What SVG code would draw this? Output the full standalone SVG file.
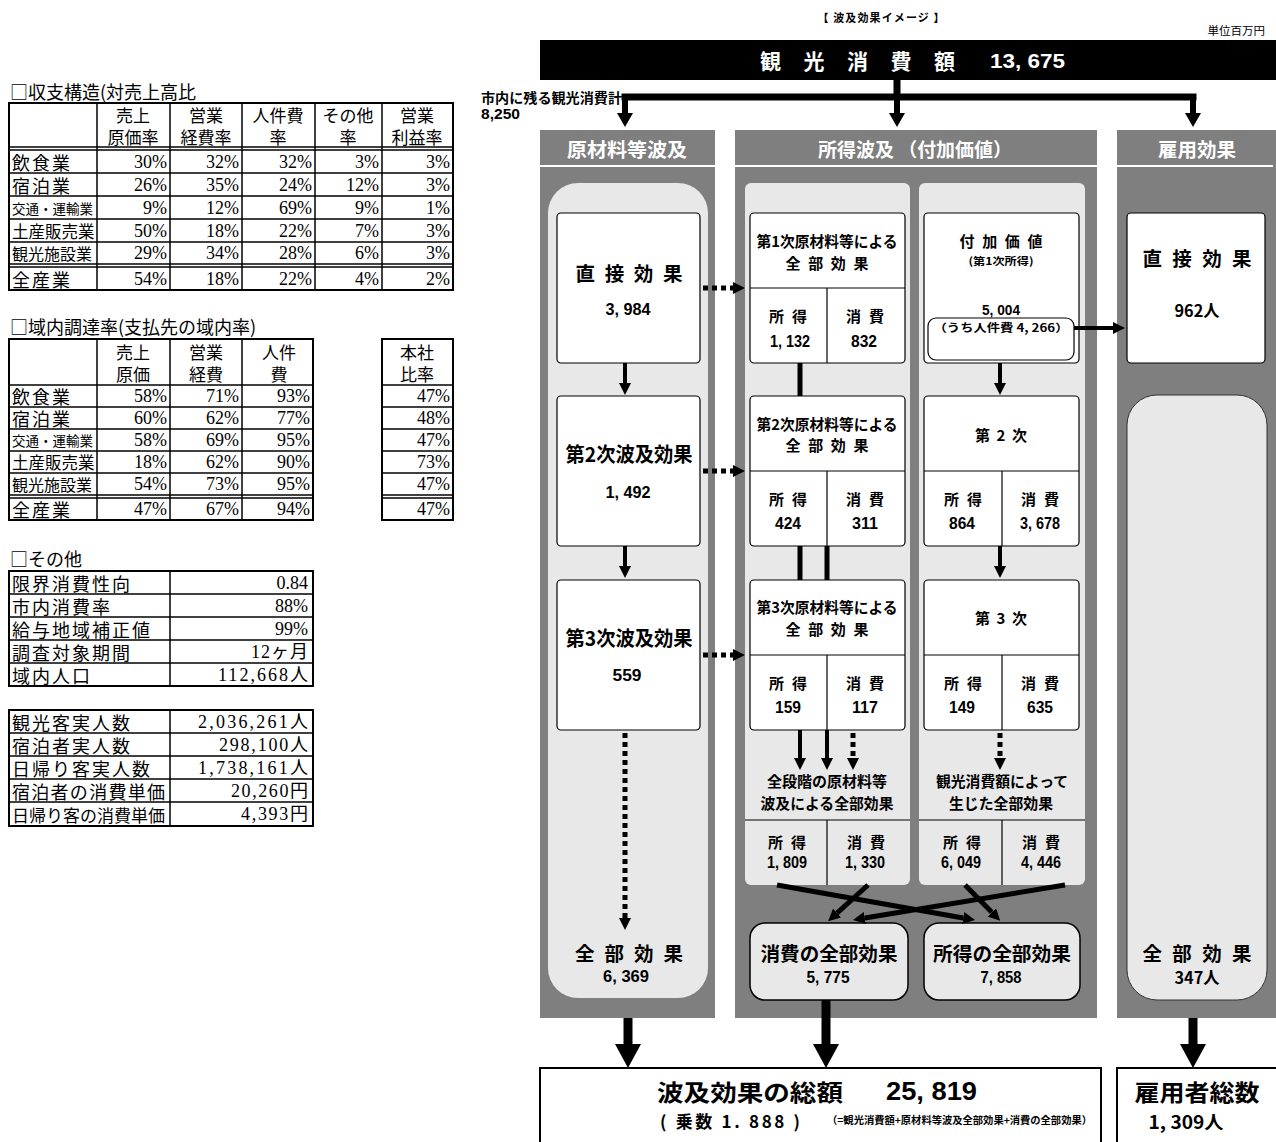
<svg xmlns="http://www.w3.org/2000/svg" width="1276" height="1142" viewBox="0 0 1276 1142">
<style>
.b{font-family:"Noto Sans CJK JP",sans-serif;font-weight:700;fill:#000}
.n{font-family:"Liberation Sans","Noto Sans CJK JP",sans-serif;font-weight:700;fill:#000}
.t{font-family:"Noto Sans CJK JP",sans-serif;fill:#000}
.s{font-family:"Liberation Serif","Noto Sans CJK JP",serif;fill:#000;text-anchor:end}
.w{fill:#fff}
.c{text-anchor:middle}
text{dominant-baseline:central}
.col{fill:#7f7f7f}
.pan{fill:#e8e8e8}
.box{fill:#fff;stroke:#000;stroke-width:1.2}
.div{stroke:#000;stroke-width:1.2;fill:none}
.hl{stroke:#fff;stroke-width:2}
.tb{fill:none;stroke:#000;stroke-width:2}
.tl{stroke:#000;stroke-width:1.5}
.con{stroke:#000;fill:none}
.dot{stroke-dasharray:5 4}
</style>
<defs>
<marker id="ah" viewBox="0 0 12 12" refX="0" refY="6" markerWidth="12" markerHeight="12" markerUnits="userSpaceOnUse" orient="auto"><path d="M0,0 L12,6 L0,12 z" fill="#000"/></marker>
<marker id="ahT" viewBox="0 0 14 16" refX="0" refY="8" markerWidth="14" markerHeight="16" markerUnits="userSpaceOnUse" orient="auto"><path d="M0,0 L14,8 L0,16 z" fill="#000"/></marker>
<marker id="ahB" viewBox="0 0 24 26" refX="0" refY="13" markerWidth="24" markerHeight="26" markerUnits="userSpaceOnUse" orient="auto"><path d="M0,0 L24,13 L0,26 z" fill="#000"/></marker>
</defs>
<rect width="1276" height="1142" fill="#fff"/>

<!-- ========== LEFT TABLES ========== -->
<g id="table-income">
<text class="t" x="10" y="91" font-size="18">□収支構造(対売上高比</text>
<rect class="tb" x="9" y="103" width="444" height="187"/>
<line class="tl" x1="97" y1="103" x2="97" y2="290"/>
<line class="tl" x1="170" y1="103" x2="170" y2="290"/>
<line class="tl" x1="242" y1="103" x2="242" y2="290"/>
<line class="tl" x1="315" y1="103" x2="315" y2="290"/>
<line class="tl" x1="382" y1="103" x2="382" y2="290"/>
<line class="tl" x1="9" y1="147" x2="453" y2="147"/>
<line class="tl" x1="9" y1="150" x2="453" y2="150"/>
<line class="tl" x1="9" y1="173" x2="453" y2="173"/>
<line class="tl" x1="9" y1="196" x2="453" y2="196"/>
<line class="tl" x1="9" y1="219" x2="453" y2="219"/>
<line class="tl" x1="9" y1="242" x2="453" y2="242"/>
<line class="tl" x1="9" y1="264" x2="453" y2="264"/>
<line class="tl" x1="9" y1="267" x2="453" y2="267"/>
<g font-size="17">
<text class="t c" x="133" y="114">売上</text><text class="t c" x="133" y="136">原価率</text>
<text class="t c" x="206" y="114">営業</text><text class="t c" x="206" y="136">経費率</text>
<text class="t c" x="278" y="114">人件費</text><text class="t c" x="278" y="136">率</text>
<text class="t c" x="348" y="114">その他</text><text class="t c" x="348" y="136">率</text>
<text class="t c" x="417" y="114">営業</text><text class="t c" x="417" y="136">利益率</text>
</g>
<text class="t" x="12" y="161.5" font-size="18" textLength="58">飲食業</text>
<text class="t" x="12" y="184.5" font-size="18" textLength="58">宿泊業</text>
<text class="t" x="12" y="207.5" font-size="13.5">交通・運輸業</text>
<text class="t" x="12" y="230.5" font-size="16.5">土産販売業</text>
<text class="t" x="12" y="253" font-size="16">観光施設業</text>
<text class="t" x="12" y="278.5" font-size="18" textLength="58">全産業</text>
<g font-size="18">
<text class="s" x="167" y="161.5">30%</text><text class="s" x="239" y="161.5">32%</text><text class="s" x="312" y="161.5">32%</text><text class="s" x="379" y="161.5">3%</text><text class="s" x="450" y="161.5">3%</text>
<text class="s" x="167" y="184.5">26%</text><text class="s" x="239" y="184.5">35%</text><text class="s" x="312" y="184.5">24%</text><text class="s" x="379" y="184.5">12%</text><text class="s" x="450" y="184.5">3%</text>
<text class="s" x="167" y="207.5">9%</text><text class="s" x="239" y="207.5">12%</text><text class="s" x="312" y="207.5">69%</text><text class="s" x="379" y="207.5">9%</text><text class="s" x="450" y="207.5">1%</text>
<text class="s" x="167" y="230.5">50%</text><text class="s" x="239" y="230.5">18%</text><text class="s" x="312" y="230.5">22%</text><text class="s" x="379" y="230.5">7%</text><text class="s" x="450" y="230.5">3%</text>
<text class="s" x="167" y="253">29%</text><text class="s" x="239" y="253">34%</text><text class="s" x="312" y="253">28%</text><text class="s" x="379" y="253">6%</text><text class="s" x="450" y="253">3%</text>
<text class="s" x="167" y="278.5">54%</text><text class="s" x="239" y="278.5">18%</text><text class="s" x="312" y="278.5">22%</text><text class="s" x="379" y="278.5">4%</text><text class="s" x="450" y="278.5">2%</text>
</g>
</g>

<g id="table-procurement">
<text class="t" x="10" y="326" font-size="18">□域内調達率(支払先の域内率)</text>
<rect class="tb" x="9" y="339" width="304" height="181"/>
<line class="tl" x1="97" y1="339" x2="97" y2="520"/>
<line class="tl" x1="170" y1="339" x2="170" y2="520"/>
<line class="tl" x1="242" y1="339" x2="242" y2="520"/>
<rect class="tb" x="382" y="339" width="71" height="181"/>
<g>
<line class="tl" x1="9" y1="385" x2="313" y2="385"/><line class="tl" x1="382" y1="385" x2="453" y2="385"/>
<line class="tl" x1="9" y1="407" x2="313" y2="407"/><line class="tl" x1="382" y1="407" x2="453" y2="407"/>
<line class="tl" x1="9" y1="429" x2="313" y2="429"/><line class="tl" x1="382" y1="429" x2="453" y2="429"/>
<line class="tl" x1="9" y1="451" x2="313" y2="451"/><line class="tl" x1="382" y1="451" x2="453" y2="451"/>
<line class="tl" x1="9" y1="473" x2="313" y2="473"/><line class="tl" x1="382" y1="473" x2="453" y2="473"/>
<line class="tl" x1="9" y1="495" x2="313" y2="495"/><line class="tl" x1="382" y1="495" x2="453" y2="495"/>
<line class="tl" x1="9" y1="498" x2="313" y2="498"/><line class="tl" x1="382" y1="498" x2="453" y2="498"/>
</g>
<text class="t c" x="133" y="351" font-size="17">売上</text><text class="t c" x="133" y="373" font-size="17">原価</text>
<text class="t c" x="206" y="351" font-size="17">営業</text><text class="t c" x="206" y="373" font-size="17">経費</text>
<text class="t c" x="279" y="351" font-size="17">人件</text><text class="t c" x="279" y="373" font-size="17">費</text>
<text class="t c" x="417" y="351" font-size="17">本社</text><text class="t c" x="417" y="373" font-size="17">比率</text>
<text class="t" x="12" y="396" font-size="18" textLength="58">飲食業</text>
<text class="t" x="12" y="418" font-size="18" textLength="58">宿泊業</text>
<text class="t" x="12" y="440" font-size="13.5">交通・運輸業</text>
<text class="t" x="12" y="462" font-size="16.5">土産販売業</text>
<text class="t" x="12" y="484" font-size="16">観光施設業</text>
<text class="t" x="12" y="509" font-size="18" textLength="58">全産業</text>
<g font-size="18">
<text class="s" x="167" y="396">58%</text><text class="s" x="239" y="396">71%</text><text class="s" x="310" y="396">93%</text><text class="s" x="450" y="396">47%</text>
<text class="s" x="167" y="418">60%</text><text class="s" x="239" y="418">62%</text><text class="s" x="310" y="418">77%</text><text class="s" x="450" y="418">48%</text>
<text class="s" x="167" y="440">58%</text><text class="s" x="239" y="440">69%</text><text class="s" x="310" y="440">95%</text><text class="s" x="450" y="440">47%</text>
<text class="s" x="167" y="462">18%</text><text class="s" x="239" y="462">62%</text><text class="s" x="310" y="462">90%</text><text class="s" x="450" y="462">73%</text>
<text class="s" x="167" y="484">54%</text><text class="s" x="239" y="484">73%</text><text class="s" x="310" y="484">95%</text><text class="s" x="450" y="484">47%</text>
<text class="s" x="167" y="509">47%</text><text class="s" x="239" y="509">67%</text><text class="s" x="310" y="509">94%</text><text class="s" x="450" y="509">47%</text>
</g>
</g>

<g id="table-other">
<text class="t" x="10" y="558" font-size="18">□その他</text>
<rect class="tb" x="9" y="571" width="304" height="115"/>
<line class="tl" x1="170" y1="571" x2="170" y2="686"/>
<line class="tl" x1="9" y1="594" x2="313" y2="594"/>
<line class="tl" x1="9" y1="617" x2="313" y2="617"/>
<line class="tl" x1="9" y1="640" x2="313" y2="640"/>
<line class="tl" x1="9" y1="663" x2="313" y2="663"/>
<text class="t" x="12" y="582.5" font-size="18" textLength="118">限界消費性向</text>
<text class="t" x="12" y="605.5" font-size="18" textLength="98">市内消費率</text>
<text class="t" x="12" y="628.5" font-size="18" textLength="138">給与地域補正値</text>
<text class="t" x="12" y="651.5" font-size="18" textLength="118">調査対象期間</text>
<text class="t" x="12" y="674.5" font-size="18" textLength="78">域内人口</text>
<g font-size="18">
<text class="s" x="308" y="582.5">0.84</text>
<text class="s" x="308" y="605.5">88%</text>
<text class="s" x="308" y="628.5">99%</text>
<text class="s" x="308" y="651.5" textLength="57">12ヶ月</text>
<text class="s" x="308" y="674.5" textLength="90">112,668人</text>
</g>
</g>

<g id="table-visitors">
<rect class="tb" x="9" y="710" width="304" height="116"/>
<line class="tl" x1="170" y1="710" x2="170" y2="826"/>
<line class="tl" x1="9" y1="733" x2="313" y2="733"/>
<line class="tl" x1="9" y1="756" x2="313" y2="756"/>
<line class="tl" x1="9" y1="779" x2="313" y2="779"/>
<line class="tl" x1="9" y1="802" x2="313" y2="802"/>
<text class="t" x="12" y="721.5" font-size="18" textLength="118">観光客実人数</text>
<text class="t" x="12" y="744.5" font-size="18" textLength="118">宿泊者実人数</text>
<text class="t" x="12" y="767.5" font-size="18" textLength="138">日帰り客実人数</text>
<text class="t" x="12" y="790.5" font-size="18" textLength="153">宿泊者の消費単価</text>
<text class="t" x="12" y="814" font-size="17" textLength="153">日帰り客の消費単価</text>
<g font-size="18">
<text class="s" x="308" y="721.5" textLength="110">2,036,261人</text>
<text class="s" x="308" y="744.5" textLength="89">298,100人</text>
<text class="s" x="308" y="767.5" textLength="110">1,738,161人</text>
<text class="s" x="308" y="790.5" textLength="77">20,260円</text>
<text class="s" x="308" y="814" textLength="67">4,393円</text>
</g>
</g>

<!-- ========== DIAGRAM ========== -->
<g id="title">
<text class="b c" x="881" y="17" font-size="11" textLength="127">【 波及効果イメージ 】</text>
<text class="t" x="1265" y="30" font-size="11.5" text-anchor="end">単位百万円</text>
</g>

<g id="node-tourism-spending">
<rect x="540" y="40" width="736" height="40" fill="#000"/>
<text class="b w" x="760" y="60" font-size="21" textLength="195" lengthAdjust="spacing">観 光 消 費 額</text>
<text class="n w" x="990" y="60" font-size="21" textLength="75" lengthAdjust="spacingAndGlyphs">13, 675</text>
</g>

<g id="label-remaining">
<text class="b" x="481" y="97" font-size="13.5" textLength="141" lengthAdjust="spacingAndGlyphs">市内に残る観光消費計</text>
<text class="n" x="481" y="113" font-size="15" textLength="39" lengthAdjust="spacingAndGlyphs">8,250</text>
</g>

<!-- columns -->
<g id="col-materials">
<rect class="col" x="540" y="130" width="175" height="888"/>
<line class="hl" x1="540" y1="166" x2="715" y2="166"/>
<text class="b w c" x="627" y="148" font-size="19" textLength="120" lengthAdjust="spacingAndGlyphs">原材料等波及</text>
<rect class="pan" x="548" y="183" width="160" height="815" rx="30"/>
</g>
<g id="col-income">
<rect class="col" x="735" y="130" width="362" height="888"/>
<line class="hl" x1="735" y1="166" x2="1097" y2="166"/>
<text class="b w c" x="915" y="148" font-size="19" textLength="194" lengthAdjust="spacingAndGlyphs">所得波及 （付加価値）</text>
<rect class="pan" x="745" y="183" width="165" height="702" rx="6"/>
<rect class="pan" x="919" y="183" width="166" height="702" rx="6"/>
</g>
<g id="col-employment">
<rect class="col" x="1117" y="130" width="159" height="888"/>
<line class="hl" x1="1117" y1="166" x2="1273" y2="166"/>
<text class="b w c" x="1197" y="148" font-size="19" textLength="78" lengthAdjust="spacingAndGlyphs">雇用効果</text>
</g>

<!-- left column nodes -->
<g id="node-direct">
<rect class="box" x="557" y="213" width="143" height="150" rx="4"/>
<text class="b c" x="629" y="272" font-size="19.5" textLength="107" lengthAdjust="spacing">直 接 効 果</text>
<text class="n c" x="628" y="309" font-size="17" textLength="45" lengthAdjust="spacingAndGlyphs">3, 984</text>
</g>
<g id="node-second">
<rect class="box" x="557" y="396" width="143" height="150" rx="4"/>
<text class="b c" x="629" y="453" font-size="20" textLength="127" lengthAdjust="spacingAndGlyphs">第2次波及効果</text>
<text class="n c" x="628" y="492" font-size="17" textLength="45" lengthAdjust="spacingAndGlyphs">1, 492</text>
</g>
<g id="node-third">
<rect class="box" x="557" y="580" width="143" height="150" rx="4"/>
<text class="b c" x="629" y="637" font-size="20" textLength="127" lengthAdjust="spacingAndGlyphs">第3次波及効果</text>
<text class="n c" x="627" y="675" font-size="17" textLength="29" lengthAdjust="spacingAndGlyphs">559</text>
</g>
<g id="node-materials-total">
<text class="b c" x="629" y="952" font-size="19.5" textLength="108" lengthAdjust="spacing">全 部 効 果</text>
<text class="n c" x="626" y="976" font-size="17" textLength="46" lengthAdjust="spacingAndGlyphs">6, 369</text>
</g>

<!-- middle column nodes -->
<g id="node-m1">
<rect class="box" x="750" y="213" width="155" height="150" rx="4"/>
<line class="div" x1="750" y1="288" x2="905" y2="288"/>
<line class="div" x1="827" y1="288" x2="827" y2="363"/>
<text class="b c" x="827" y="240" font-size="15" textLength="141" lengthAdjust="spacingAndGlyphs">第1次原材料等による</text>
<text class="b c" x="827" y="262" font-size="15" textLength="83" lengthAdjust="spacing">全 部 効 果</text>
<text class="b c" x="788" y="315" font-size="15" textLength="38" lengthAdjust="spacing">所 得</text>
<text class="n c" x="790" y="341" font-size="16" textLength="40" lengthAdjust="spacingAndGlyphs">1, 132</text>
<text class="b c" x="865" y="315" font-size="15" textLength="38" lengthAdjust="spacing">消 費</text>
<text class="n c" x="864" y="341" font-size="16" textLength="26" lengthAdjust="spacingAndGlyphs">832</text>
</g>
<g id="node-m2">
<rect class="box" x="750" y="396" width="155" height="150" rx="4"/>
<line class="div" x1="750" y1="471" x2="905" y2="471"/>
<line class="div" x1="827" y1="471" x2="827" y2="546"/>
<text class="b c" x="827" y="423" font-size="15" textLength="141" lengthAdjust="spacingAndGlyphs">第2次原材料等による</text>
<text class="b c" x="827" y="444" font-size="15" textLength="83" lengthAdjust="spacing">全 部 効 果</text>
<text class="b c" x="788" y="498" font-size="15" textLength="38" lengthAdjust="spacing">所 得</text>
<text class="n c" x="788" y="523" font-size="16" textLength="26" lengthAdjust="spacingAndGlyphs">424</text>
<text class="b c" x="865" y="498" font-size="15" textLength="38" lengthAdjust="spacing">消 費</text>
<text class="n c" x="865" y="523" font-size="16" textLength="26" lengthAdjust="spacingAndGlyphs">311</text>
</g>
<g id="node-m3">
<rect class="box" x="750" y="580" width="155" height="150" rx="4"/>
<line class="div" x1="750" y1="655" x2="905" y2="655"/>
<line class="div" x1="827" y1="655" x2="827" y2="730"/>
<text class="b c" x="827" y="606" font-size="15" textLength="141" lengthAdjust="spacingAndGlyphs">第3次原材料等による</text>
<text class="b c" x="827" y="628" font-size="15" textLength="83" lengthAdjust="spacing">全 部 効 果</text>
<text class="b c" x="788" y="682" font-size="15" textLength="38" lengthAdjust="spacing">所 得</text>
<text class="n c" x="788" y="707" font-size="16" textLength="26" lengthAdjust="spacingAndGlyphs">159</text>
<text class="b c" x="865" y="682" font-size="15" textLength="38" lengthAdjust="spacing">消 費</text>
<text class="n c" x="865" y="707" font-size="16" textLength="26" lengthAdjust="spacingAndGlyphs">117</text>
</g>
<g id="node-m-total">
<text class="b c" x="827" y="780" font-size="15" textLength="120" lengthAdjust="spacingAndGlyphs">全段階の原材料等</text>
<text class="b c" x="827" y="802" font-size="15" textLength="133" lengthAdjust="spacingAndGlyphs">波及による全部効果</text>
<line class="div" x1="745" y1="820" x2="910" y2="820"/>
<line class="div" x1="827" y1="820" x2="827" y2="885"/>
<text class="b c" x="787" y="841" font-size="15" textLength="38" lengthAdjust="spacing">所 得</text>
<text class="n c" x="787" y="862" font-size="16" textLength="40" lengthAdjust="spacingAndGlyphs">1, 809</text>
<text class="b c" x="866" y="841" font-size="15" textLength="38" lengthAdjust="spacing">消 費</text>
<text class="n c" x="865" y="862" font-size="16" textLength="40" lengthAdjust="spacingAndGlyphs">1, 330</text>
</g>

<g id="node-v1">
<rect class="box" x="924" y="213" width="155" height="150" rx="4"/>
<text class="b c" x="1001" y="240" font-size="15" textLength="83" lengthAdjust="spacing">付 加 価 値</text>
<text class="b c" x="1001" y="260" font-size="10.5" textLength="65" lengthAdjust="spacingAndGlyphs">(第1次所得)</text>
<text class="n c" x="1001" y="309" font-size="15" textLength="38" lengthAdjust="spacingAndGlyphs">5, 004</text>
<rect class="box" x="928" y="318" width="146" height="42" rx="8"/>
<text class="b c" x="1001" y="327" font-size="11" textLength="135" lengthAdjust="spacingAndGlyphs">（うち人件費 4, 266）</text>
</g>
<g id="node-v2">
<rect class="box" x="924" y="396" width="155" height="150" rx="4"/>
<line class="div" x1="924" y1="471" x2="1079" y2="471"/>
<line class="div" x1="1002" y1="471" x2="1002" y2="546"/>
<text class="b c" x="1001" y="434" font-size="15" textLength="52" lengthAdjust="spacing">第 2 次</text>
<text class="b c" x="963" y="498" font-size="15" textLength="38" lengthAdjust="spacing">所 得</text>
<text class="n c" x="962" y="523" font-size="16" textLength="26" lengthAdjust="spacingAndGlyphs">864</text>
<text class="b c" x="1040" y="498" font-size="15" textLength="38" lengthAdjust="spacing">消 費</text>
<text class="n c" x="1040" y="523" font-size="16" textLength="40" lengthAdjust="spacingAndGlyphs">3, 678</text>
</g>
<g id="node-v3">
<rect class="box" x="924" y="580" width="155" height="150" rx="4"/>
<line class="div" x1="924" y1="655" x2="1079" y2="655"/>
<line class="div" x1="1002" y1="655" x2="1002" y2="730"/>
<text class="b c" x="1001" y="617" font-size="15" textLength="52" lengthAdjust="spacing">第 3 次</text>
<text class="b c" x="963" y="682" font-size="15" textLength="38" lengthAdjust="spacing">所 得</text>
<text class="n c" x="962" y="707" font-size="16" textLength="26" lengthAdjust="spacingAndGlyphs">149</text>
<text class="b c" x="1040" y="682" font-size="15" textLength="38" lengthAdjust="spacing">消 費</text>
<text class="n c" x="1040" y="707" font-size="16" textLength="26" lengthAdjust="spacingAndGlyphs">635</text>
</g>
<g id="node-v-total">
<text class="b c" x="1002" y="780" font-size="15" textLength="132" lengthAdjust="spacingAndGlyphs">観光消費額によって</text>
<text class="b c" x="1001" y="802" font-size="15" textLength="104" lengthAdjust="spacingAndGlyphs">生じた全部効果</text>
<line class="div" x1="919" y1="820" x2="1085" y2="820"/>
<line class="div" x1="1002" y1="820" x2="1002" y2="885"/>
<text class="b c" x="962" y="841" font-size="15" textLength="38" lengthAdjust="spacing">所 得</text>
<text class="n c" x="961" y="862" font-size="16" textLength="40" lengthAdjust="spacingAndGlyphs">6, 049</text>
<text class="b c" x="1041" y="841" font-size="15" textLength="38" lengthAdjust="spacing">消 費</text>
<text class="n c" x="1041" y="862" font-size="16" textLength="40" lengthAdjust="spacingAndGlyphs">4, 446</text>
</g>

<g id="node-consumption-total">
<rect x="750" y="923" width="158" height="77" rx="15" fill="#e8e8e8" stroke="#000" stroke-width="1.5"/>
<text class="b c" x="829" y="952" font-size="19.5" textLength="137" lengthAdjust="spacingAndGlyphs">消費の全部効果</text>
<text class="n c" x="828" y="977" font-size="17" textLength="43" lengthAdjust="spacingAndGlyphs">5, 775</text>
</g>
<g id="node-income-total">
<rect x="924" y="923" width="156" height="77" rx="15" fill="#e8e8e8" stroke="#000" stroke-width="1.5"/>
<text class="b c" x="1002" y="952" font-size="19.5" textLength="138" lengthAdjust="spacingAndGlyphs">所得の全部効果</text>
<text class="n c" x="1001" y="977" font-size="17" textLength="41" lengthAdjust="spacingAndGlyphs">7, 858</text>
</g>

<!-- right column nodes -->
<g id="node-emp-direct">
<rect class="box" x="1127" y="213" width="138" height="150" rx="4"/>
<text class="b c" x="1197" y="257" font-size="19.5" textLength="109" lengthAdjust="spacing">直 接 効 果</text>
<text class="b c" x="1197" y="310" font-size="16.5" textLength="45" lengthAdjust="spacingAndGlyphs">962人</text>
</g>
<g id="node-emp-total">
<rect x="1127" y="395" width="140" height="605" rx="30" fill="#e8e8e8" stroke="#333" stroke-width="1"/>
<text class="b c" x="1197" y="952" font-size="19.5" textLength="109" lengthAdjust="spacing">全 部 効 果</text>
<text class="b c" x="1197" y="977" font-size="16.5" textLength="45" lengthAdjust="spacingAndGlyphs">347人</text>
</g>

<!-- bottom nodes -->
<g id="node-grand-total">
<rect x="540" y="1068" width="561" height="80" fill="#fff" stroke="#000" stroke-width="2"/>
<text class="b" x="657" y="1091" font-size="23" textLength="186" lengthAdjust="spacingAndGlyphs">波及効果の総額</text>
<text class="n" x="886" y="1091" font-size="25" textLength="91" lengthAdjust="spacingAndGlyphs">25, 819</text>
<text class="b" x="660" y="1120" font-size="17" textLength="140" lengthAdjust="spacing">(  乗数 1. 888  )</text>
<text class="b" x="827" y="1119" font-size="10.5" textLength="265" lengthAdjust="spacingAndGlyphs">（=観光消費額+原材料等波及全部効果+消費の全部効果）</text>
</g>
<g id="node-employees">
<rect x="1117" y="1068" width="165" height="80" fill="#fff" stroke="#000" stroke-width="2"/>
<text class="b c" x="1197" y="1091" font-size="23" textLength="125" lengthAdjust="spacingAndGlyphs">雇用者総数</text>
<text class="b c" x="1186" y="1121" font-size="18" textLength="75" lengthAdjust="spacingAndGlyphs">1, 309人</text>
</g>

<!-- ========== CONNECTORS ========== -->
<g id="connectors">
<path class="con" stroke-width="7" d="M897,80 V97"/>
<path class="con" stroke-width="7" stroke-linecap="square" d="M625,97 H1193"/>
<path class="con" stroke-width="6" d="M625,97 V113" marker-end="url(#ahT)"/>
<path class="con" stroke-width="6" d="M897,97 V113" marker-end="url(#ahT)"/>
<path class="con" stroke-width="6" d="M1193,97 V113" marker-end="url(#ahT)"/>

<path class="con" stroke-width="4" d="M625,363 V383" marker-end="url(#ah)"/>
<path class="con" stroke-width="4" d="M625,546 V566" marker-end="url(#ah)"/>
<path class="con dot" stroke-width="5" d="M625,733 V918" marker-end="url(#ah)"/>

<path class="con dot" stroke-width="5" d="M703,288 H733" marker-end="url(#ah)"/>
<path class="con dot" stroke-width="5" d="M703,471 H733" marker-end="url(#ah)"/>
<path class="con dot" stroke-width="5" d="M703,655 H733" marker-end="url(#ah)"/>

<path class="con" stroke-width="5" d="M800,363 V396"/>
<path class="con" stroke-width="5" d="M800,546 V580"/>
<path class="con" stroke-width="5" d="M827,546 V580"/>
<path class="con" stroke-width="4" d="M800,730 V758" marker-end="url(#ah)"/>
<path class="con" stroke-width="4" d="M827,730 V758" marker-end="url(#ah)"/>
<path class="con dot" stroke-width="5" d="M853,733 V758" marker-end="url(#ah)"/>

<path class="con" stroke-width="4" d="M1000,363 V383" marker-end="url(#ah)"/>
<path class="con" stroke-width="4" d="M1000,546 V566" marker-end="url(#ah)"/>
<path class="con dot" stroke-width="5" d="M1000,733 V758" marker-end="url(#ah)"/>

<path class="con" stroke-width="4" d="M1074,328 H1113" marker-end="url(#ah)"/>

<path class="con" stroke-width="5" d="M777,885 L963.2,918" marker-end="url(#ah)"/>
<path class="con" stroke-width="5" d="M868,885 L837,913.1" marker-end="url(#ah)"/>
<path class="con" stroke-width="5" d="M965,885 L991.8,912.3" marker-end="url(#ah)"/>
<path class="con" stroke-width="5" d="M1065,885 L864.8,918" marker-end="url(#ah)"/>

<path class="con" stroke-width="9" d="M628,1018 V1044" marker-end="url(#ahB)"/>
<path class="con" stroke-width="9" d="M826,1000 V1044" marker-end="url(#ahB)"/>
<path class="con" stroke-width="9" d="M1193,1018 V1044" marker-end="url(#ahB)"/>
</g>
</svg>
